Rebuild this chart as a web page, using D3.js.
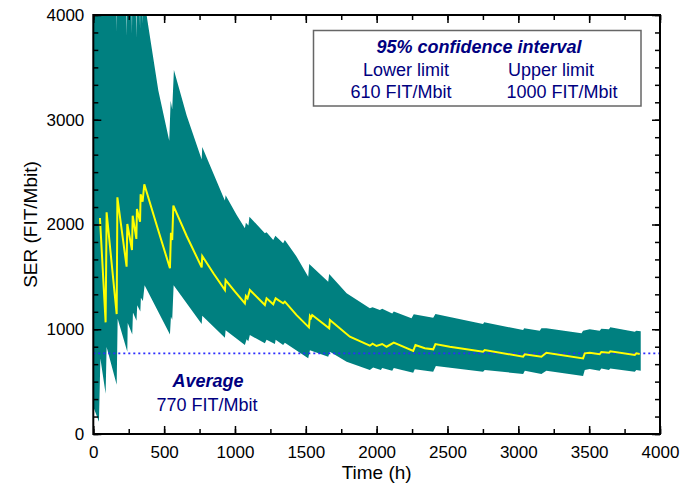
<!DOCTYPE html>
<html>
<head>
<meta charset="utf-8">
<script src="https://cdn.jsdelivr.net/npm/d3@7"></script>
<style>
  body { margin: 0; background: #fff; }
  svg { display: block; font-family: "Liberation Sans", Arial, sans-serif; }
</style>
</head>
<body>
<svg id="chart" width="694" height="486"></svg>
<script>
// [time (h), SER (FIT/Mbit)]
const estimate = [
  [47, 2062], [87, 1066], [94, 2116], [165, 1145], [170, 2260], [235, 1597], [240, 2005],
  [273, 1757], [278, 2084], [304, 1862], [308, 2148], [330, 2027], [334, 2288], [348, 2218],
  [360, 2384], [447, 1995], [541, 1582], [548, 1922], [557, 1852], [565, 2180], [659, 1890],
  [765, 1591], [769, 1699], [850, 1530], [929, 1375], [934, 1470], [1000, 1360], [1070, 1248],
  [1077, 1317], [1089, 1295], [1105, 1375], [1211, 1231], [1223, 1295], [1270, 1238],
  [1287, 1295], [1340, 1248], [1352, 1263], [1435, 1135], [1522, 1018], [1529, 1127],
  [1537, 1110], [1545, 1136], [1665, 1009], [1670, 1088], [1811, 929], [1952, 843],
  [1971, 863], [1999, 840], [2039, 859], [2070, 833], [2121, 872], [2258, 792], [2274, 850],
  [2340, 818], [2399, 808], [2415, 859], [2516, 833], [2751, 786], [2763, 802], [3034, 738],
  [3046, 761], [3163, 738], [3198, 776], [3457, 722], [3469, 770], [3504, 776], [3574, 761],
  [3586, 783], [3640, 775], [3649, 789], [3822, 754], [3833, 770], [3857, 764]
];

const upperLimit = [
  [0, 9000], [160, 4200], [165, 3840], [168, 5000], [230, 4100], [235, 3800], [238, 4600],
  [270, 4050], [273, 3820], [276, 4400], [300, 4050], [304, 3780], [307, 4300], [327, 4050],
  [330, 3870], [333, 4300], [345, 4050], [348, 3920], [351, 4250], [358, 4060], [361, 4170],
  [376, 4000], [459, 3280], [536, 2800], [546, 3182], [557, 3100], [569, 3475], [659, 3040],
  [765, 2620], [769, 2740], [850, 2480], [917, 2265], [929, 2230], [934, 2280], [1012, 2090],
  [1070, 1964], [1077, 2017], [1095, 1990], [1102, 2075], [1211, 1916], [1223, 1925],
  [1270, 1852], [1285, 1893], [1340, 1820], [1352, 1852], [1435, 1693], [1517, 1502],
  [1524, 1623], [1658, 1454], [1665, 1527], [1788, 1343], [1952, 1200], [1971, 1209],
  [2023, 1184], [2039, 1195], [2110, 1150], [2121, 1170], [2246, 1105], [2262, 1143],
  [2399, 1110], [2415, 1146], [2751, 1050], [2759, 1066], [3034, 993], [3041, 1009],
  [3151, 986], [3163, 1009], [3198, 1010], [3446, 961], [3457, 986], [3504, 999],
  [3574, 985], [3586, 1005], [3640, 1000], [3649, 1018], [3822, 975], [3833, 986], [3864, 980]
];

const lowerLimit = [
  [0, 260], [40, 118], [50, 720], [87, 385], [94, 830], [165, 470], [172, 1100], [240, 785],
  [243, 1060], [275, 950], [280, 1160], [305, 1080], [310, 1230], [332, 1170], [336, 1300],
  [350, 1270], [362, 1420], [541, 950], [548, 1120], [557, 1090], [567, 1420], [765, 1050],
  [769, 1130], [929, 920], [934, 990], [1070, 850], [1082, 905], [1094, 885], [1105, 945],
  [1211, 866], [1223, 900], [1282, 860], [1287, 900], [1340, 850], [1352, 870], [1517, 722],
  [1529, 800], [1658, 738], [1670, 786], [1788, 690], [1952, 611], [1975, 635], [2030, 612],
  [2039, 630], [2110, 605], [2121, 630], [2258, 585], [2269, 617], [2399, 595], [2418, 649],
  [2751, 595], [2763, 611], [3034, 573], [3046, 605], [3163, 573], [3198, 605], [3457, 554],
  [3469, 611], [3504, 620], [3574, 605], [3586, 625], [3640, 610], [3649, 625], [3822, 595],
  [3833, 611], [3864, 605]
];

const average = 770;
const xTicks = d3.range(0, 4001, 500);
const xMinor = d3.range(0, 4001, 250);
const yTicks = d3.range(0, 4001, 1000);
const yMinor = d3.range(0, 25).map((i) => i * 1000 / 6);

const legendTitle = '95% confidence interval';
const legendCols = [['Lower limit', '610 FIT/Mbit'], ['Upper limit', '1000 FIT/Mbit']];

const plotL = 93.3, plotR = 660, plotT = 15, plotB = 434;
const navy = '#000080';

const svg = d3.select('#chart');
const x = d3.scaleLinear().domain([0, 4000]).range([plotL, plotR]);
const y = d3.scaleLinear().domain([0, 4000]).range([plotB, plotT]);

svg.append('clipPath').attr('id', 'plot')
  .append('rect').attr('x', plotL).attr('y', plotT).attr('width', plotR - plotL).attr('height', plotB - plotT);

const data = svg.append('g').attr('clip-path', 'url(#plot)');
const line = d3.line().x((d) => x(d[0])).y((d) => y(d[1]));

// confidence band: upper edge forward, lower edge back
data.append('path')
  .attr('d', line(upperLimit.concat(lowerLimit.slice().reverse())) + 'Z')
  .attr('fill', '#008080');

data.append('line')
  .attr('x1', plotL).attr('x2', plotR).attr('y1', y(average)).attr('y2', y(average))
  .attr('stroke', '#2b2bff').attr('stroke-width', 1.6).attr('stroke-dasharray', '2,3');

data.append('path')
  .attr('d', line(estimate))
  .attr('fill', 'none').attr('stroke', '#ffff00').attr('stroke-width', 2)
  .attr('stroke-linejoin', 'miter');

function addAxis(axis, tx, ty, labels) {
  let g = svg.append('g').attr('transform', `translate(${tx},${ty})`).call(axis);
  g.select('.domain').remove();
  g.selectAll('line').attr('stroke', '#000').attr('stroke-width', 1.5);
  g.selectAll('text').attr('font-size', 17).attr('fill', '#000')
    .attr('font-family', '"Liberation Sans", Arial, sans-serif');
  if (!labels) g.selectAll('text').remove();
  return g;
}

const fmt = d3.format('d');
addAxis(d3.axisBottom(x).tickValues(xMinor).tickSize(-5), 0, plotB, false);
addAxis(d3.axisBottom(x).tickValues(xTicks).tickFormat(fmt).tickSize(-8).tickPadding(12), 0, plotB, true);
addAxis(d3.axisTop(x).tickValues(xMinor).tickSize(-5), 0, plotT, false);
addAxis(d3.axisTop(x).tickValues(xTicks).tickSize(-8), 0, plotT, false);
addAxis(d3.axisLeft(y).tickValues(yMinor).tickSize(-5), plotL, 0, false);
addAxis(d3.axisLeft(y).tickValues(yTicks).tickFormat(fmt).tickSize(-8).tickPadding(9), plotL, 0, true);
addAxis(d3.axisRight(y).tickValues(yMinor).tickSize(-5), plotR, 0, false);
addAxis(d3.axisRight(y).tickValues(yTicks).tickSize(-8), plotR, 0, false);

svg.append('rect')
  .attr('x', plotL).attr('y', plotT).attr('width', plotR - plotL).attr('height', plotB - plotT)
  .attr('fill', 'none').attr('stroke', '#000').attr('stroke-width', 2);

svg.append('text')
  .attr('x', (plotL + plotR) / 2).attr('y', 479)
  .attr('text-anchor', 'middle').attr('font-size', 19).text('Time (h)');

svg.append('text')
  .attr('transform', `translate(37,${(plotT + plotB) / 2}) rotate(-90)`)
  .attr('text-anchor', 'middle').attr('font-size', 19).text('SER (FIT/Mbit)');

// legend box
svg.append('rect')
  .attr('x', 313.5).attr('y', 30.5).attr('width', 327.5).attr('height', 75.5)
  .attr('fill', '#fff').attr('stroke', '#666').attr('stroke-width', 1.5);

svg.append('text')
  .attr('x', 479).attr('y', 53).attr('text-anchor', 'middle')
  .attr('font-size', 18).attr('font-weight', 'bold').attr('font-style', 'italic')
  .attr('fill', navy).text(legendTitle);

[[406, 401], [551, 562]].forEach((cx, i) => {
  svg.append('text').attr('x', cx[0]).attr('y', 76).attr('text-anchor', 'middle')
    .attr('font-size', 18).attr('fill', navy).text(legendCols[i][0]);
  svg.append('text').attr('x', cx[1]).attr('y', 97.5).attr('text-anchor', 'middle')
    .attr('font-size', 18).attr('fill', navy).text(legendCols[i][1]);
});

svg.append('text')
  .attr('x', 208).attr('y', 387).attr('text-anchor', 'middle')
  .attr('font-size', 18).attr('font-weight', 'bold').attr('font-style', 'italic')
  .attr('fill', navy).text('Average');

svg.append('text')
  .attr('x', 207).attr('y', 410.5).attr('text-anchor', 'middle')
  .attr('font-size', 18).attr('fill', navy).text(`${average} FIT/Mbit`);
</script>
</body>
</html>
